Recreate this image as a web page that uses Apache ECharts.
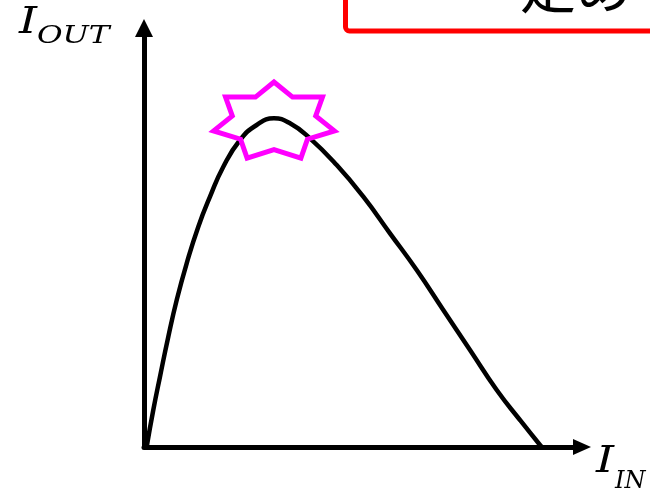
<!DOCTYPE html>
<html>
<head>
<meta charset="utf-8">
<script src="https://cdn.jsdelivr.net/npm/echarts@6/dist/echarts.min.js"></script>
<style>
html,body{margin:0;padding:0;background:#fff;}
#chart{width:650px;height:491px;}
</style>
</head>
<body>
<div id="chart"></div>
<script>
// Curve: I_OUT versus I_IN (relative units, 0..100 on both axes)
var curveX = [0.6, 2.12, 3.65, 5.55, 7.47, 9.75, 12.40, 15.07, 18.11, 21.92, 25.73, 29.68, 33.33, 37.90, 44.00, 50.07, 56.16, 62.26, 68.33, 74.43, 80.53, 85.84, 90.41, 90.87];
var curveY = [0, 8.83, 16.78, 26.33, 35.08, 43.84, 52.58, 59.74, 66.90, 73.27, 76.85, 78.45, 77.26, 73.67, 67.30, 59.74, 51.0, 42.24, 32.70, 23.15, 13.60, 6.44, 0.48, 0];
// Peak marker (star) position
var peakX = [29.68];
var peakY = [77.57];
// Axis titles and callout text
var yTitle = ['I', 'OUT'];
var xTitle = ['I', 'IN'];
var calloutText = '定め';

var chart = echarts.init(document.getElementById('chart'), null, {renderer: 'canvas'});

var curveData = curveX.map(function (x, i) { return [x, curveY[i]]; });
var peakData = peakX.map(function (x, i) { return [x, peakY[i]]; });

function starPoints(cx, cy, rx, ry, ratio, n) {
  var pts = [];
  for (var k = 0; k < 2 * n; k++) {
    var a = Math.PI / 2 + k * Math.PI / n;
    var f = (k % 2 === 0) ? 1 : ratio;
    pts.push([cx + rx * f * Math.cos(a), cy - ry * f * Math.sin(a)]);
  }
  return pts;
}

var serif = '"DejaVu Serif", "Liberation Serif", serif';

var option = {
  backgroundColor: '#ffffff',
  animation: false,
  grid: {left: 144, right: 68, top: 28, bottom: 44, containLabel: false},
  xAxis: {
    type: 'value', min: 0, max: 100,
    axisLine: {show: true, onZero: false, symbol: ['none', 'triangle'], symbolSize: [16, 18],
      lineStyle: {color: '#000', width: 5}},
    axisTick: {show: false}, axisLabel: {show: false}, splitLine: {show: false}
  },
  yAxis: {
    type: 'value', min: 0, max: 100,
    axisLine: {show: true, onZero: false, symbol: ['none', 'triangle'], symbolSize: [18, 18],
      lineStyle: {color: '#000', width: 5}},
    axisTick: {show: false}, axisLabel: {show: false}, splitLine: {show: false}
  },
  series: [
    {
      type: 'line',
      data: curveData,
      smooth: 0.5,
      showSymbol: false,
      symbol: 'none',
      lineStyle: {color: '#000', width: 4.5},
      z: 3
    },
    {
      type: 'custom',
      data: peakData,
      z: 5,
      renderItem: function (params, api) {
        var c = api.coord([api.value(0), api.value(1)]);
        return {
          type: 'polygon',
          shape: {points: starPoints(c[0], c[1], 62, 40, 0.69, 7)},
          style: {fill: 'none', stroke: '#ff00ff', lineWidth: 5, lineJoin: 'miter'}
        };
      }
    }
  ],
  graphic: [
    {type: 'rect', shape: {x: 345.5, y: -60, width: 360, height: 91, r: 4},
      style: {fill: '#fff', stroke: '#ff0000', lineWidth: 5}, z: 10},
    {type: 'text', x: 520, y: 15, z: 11,
      style: {text: calloutText, font: '56px "Noto Sans CJK JP"', fill: '#000', align: 'left', verticalAlign: 'bottom'}},
    {type: 'text', x: 28, y: 23, scaleX: 1.2, z: 11,
      style: {text: yTitle[0], font: 'italic 38px ' + serif, fill: '#000', align: 'center', verticalAlign: 'middle'}},
    {type: 'text', x: 37, y: 37, scaleX: 1.3, z: 11,
      style: {text: yTitle[1], font: 'italic 24px ' + serif, fill: '#000', align: 'left', verticalAlign: 'middle'}},
    {type: 'text', x: 605, y: 462, scaleX: 1.2, z: 11,
      style: {text: xTitle[0], font: 'italic 38px ' + serif, fill: '#000', align: 'center', verticalAlign: 'middle'}},
    {type: 'text', x: 615, y: 482, z: 11,
      style: {text: xTitle[1], font: 'italic 24px ' + serif, fill: '#000', align: 'left', verticalAlign: 'middle'}}
  ]
};
chart.setOption(option);
</script>
</body>
</html>
